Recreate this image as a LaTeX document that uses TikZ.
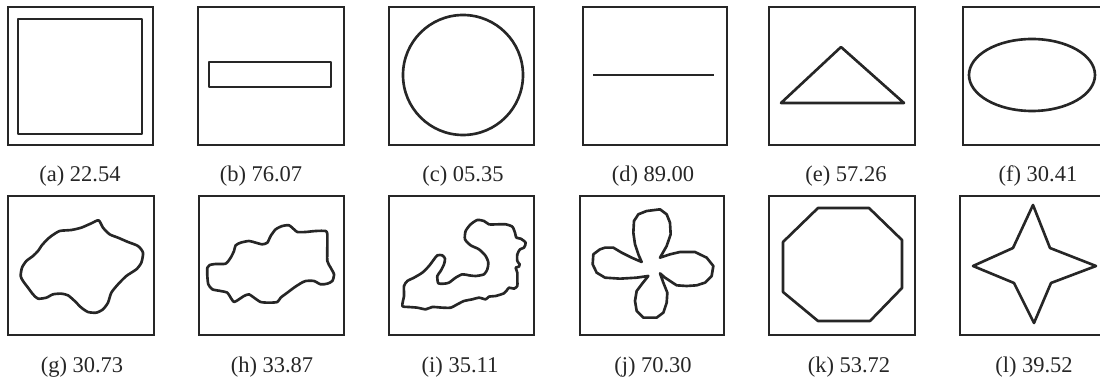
\documentclass[tikz,border=0pt]{standalone}
\usepackage{fontspec}
\setmainfont{Liberation Serif}
\tikzset{
  boxline/.style={draw=black!85, line width=0.9pt},
  figline/.style={draw=black!85, line width=1.5pt, line join=round},
  caption/.style={font=\fontsize{12.8}{15}\selectfont, inner sep=0pt, text=black!85},
}
\begin{document}
\begin{tikzpicture}[x=0.02cm,y=-0.02cm]
  \clip (0,0) rectangle (1100,381);
  % frames, top row
  \draw[boxline] (8,7) rectangle (153,145);
  \draw[boxline] (198,7) rectangle (344,145);
  \draw[boxline] (389,7) rectangle (534,145);
  \draw[boxline] (583,7) rectangle (727,145);
  \draw[boxline] (769,7) rectangle (915,145);
  \draw[boxline] (963,7) rectangle (1110,145);
  % frames, bottom row
  \draw[boxline] (8,196) rectangle (154,335);
  \draw[boxline] (199,196) rectangle (344,335);
  \draw[boxline] (389,196) rectangle (534,335);
  \draw[boxline] (580,196) rectangle (724,335);
  \draw[boxline] (769,196) rectangle (915,335);
  \draw[boxline] (960,196) rectangle (1110,335);

  % regular shapes
  \draw[figline] (18,19) rectangle (142,134);
  \draw[figline] (209,62) rectangle (331,87);
  \draw[figline] (463,75) circle[radius=60];
  \draw[figline] (593,75) -- (714,75);
  \draw[figline] (781,103) -- (841,47) -- (904,103) -- cycle;
  \draw[figline] (1032,75) ellipse[x radius=63, y radius=36];
  \draw[figline] (818,208) -- (869,208) -- (902,240) -- (902,288) -- (870,321)
    -- (818,321) -- (783,292) -- (783,242) -- cycle;
  \draw[figline] (1033,205) -- (1050,248) -- (1096,266) -- (1051,283) -- (1034,323)
    -- (1014,283) -- (973,266) -- (1013,248) -- cycle;

  % irregular shapes (traced at 3x)
  \begin{scope}[shift={(8,196)}, scale=1/3]
    \draw[figline] plot[smooth cycle, tension=0.4] coordinates {
      (272,73) (285,95) (305,115) (330,125) (360,138) (390,150) (405,170) (400,200)
      (385,220) (355,240) (330,265) (310,290) (300,320) (285,340) (265,350) (240,348)
      (220,335) (200,315) (180,298) (160,293) (135,295) (115,305) (90,308) (75,295)
      (60,275) (45,255) (38,240) (42,215) (55,195) (75,180) (90,165) (100,150)
      (115,133) (130,120) (155,105) (190,102) (220,95) (250,82)};
  \end{scope}
  \begin{scope}[shift={(199,196)}, scale=1/3]
    \draw[figline] plot[smooth cycle, tension=0.4] coordinates {
      (25,215) (32,207) (50,204) (80,203) (95,185) (105,165) (110,148) (125,140)
      (150,135) (170,140) (190,145) (205,140) (215,120) (230,100) (250,90) (270,88)
      (285,100) (295,108) (320,108) (350,105) (380,105) (385,115) (385,150) (385,195)
      (395,215) (405,235) (400,255) (385,263) (365,265) (345,255) (320,255) (305,262)
      (285,275) (265,290) (245,305) (235,318) (210,320) (185,318) (165,305) (150,295)
      (135,300) (120,310) (105,318) (95,305) (85,290) (65,285) (40,280) (28,265)
      (25,240)};
  \end{scope}
  \begin{scope}[shift={(389,196)}, scale=1/3]
    \draw[figline] plot[smooth cycle, tension=0.4] coordinates {
      (40,330) (45,300) (45,270) (55,255) (75,245) (100,230) (120,210) (135,190)
      (145,178) (160,178) (168,188) (165,205) (155,225) (145,240) (148,262) (165,263)
      (180,260) (200,245) (220,235) (240,238) (260,240) (285,235) (295,220) (298,200)
      (290,180) (270,160) (245,148) (228,130) (230,105) (245,85) (265,72) (285,75)
      (300,85) (325,85) (350,85) (370,92) (378,110) (382,125) (395,128) (410,140)
      (405,155) (393,160) (385,175) (385,195) (392,205) (390,212) (380,215) (385,230)
      (385,255) (385,270) (375,278) (360,275) (352,285) (345,292) (320,300) (300,302)
      (290,310) (270,305) (250,310) (225,315) (205,325) (185,335) (160,335) (130,333)
      (110,340) (85,335) (60,333)};
  \end{scope}
  \begin{scope}[shift={(580,196)}, scale=1/3]
    \draw[figline] (185,198) -- (175,175) -- (165,145) -- (160,110) -- (162,75)
      -- (175,55) -- (200,45) -- (240,40) -- (260,55) -- (270,80) -- (272,115)
      -- (260,150) -- (240,185) -- (270,175) -- (300,168) -- (345,168) -- (380,185)
      -- (400,210) -- (395,240) -- (375,260) -- (350,268) -- (320,270) -- (290,268)
      -- (270,255) -- (255,245) -- (240,232) -- (250,260) -- (262,290) -- (260,320)
      -- (250,350) -- (230,365) -- (190,365) -- (170,345) -- (165,315) -- (170,285)
      -- (185,265) -- (205,240) -- (170,245) -- (120,248) -- (75,245) -- (50,230)
      -- (38,205) -- (40,175) -- (60,160) -- (75,155) -- (100,155) -- (125,170)
      -- (155,185) -- cycle;
  \end{scope}

  % captions
  \node[caption] (capa) at (80,176)   {(a) 22.54};
  \node[caption] (capb) at (261,176)  {(b) 76.07};
  \node[caption] (capc) at (463,176)  {(c) 05.35};
  \node[caption] (capd) at (653,176)  {(d) 89.00};
  \node[caption] (cape) at (846,176)  {(e) 57.26};
  \node[caption] (capf) at (1038,176) {(f) 30.41};
  \node[caption] (capg) at (82,367)   {(g) 30.73};
  \node[caption] (caph) at (272,367)  {(h) 33.87};
  \node[caption] (capi) at (460,367)  {(i) 35.11};
  \node[caption] (capj) at (653,367)  {(j) 70.30};
  \node[caption] (capk) at (849,367)  {(k) 53.72};
  \node[caption] (capl) at (1034,367) {(l) 39.52};
\end{tikzpicture}
\end{document}
